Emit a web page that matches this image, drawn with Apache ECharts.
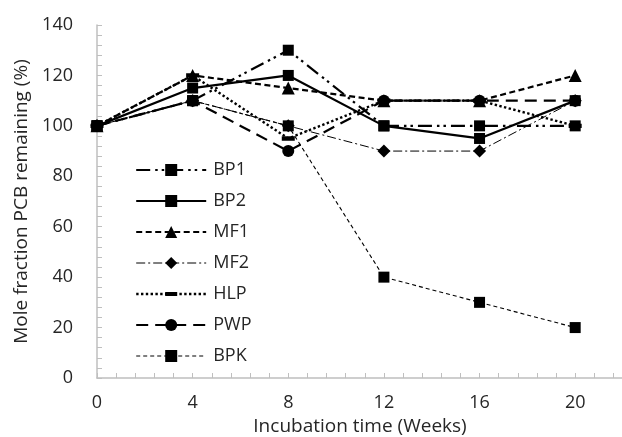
<!DOCTYPE html>
<html>
<head>
<meta charset="utf-8">
<script src="https://cdn.jsdelivr.net/npm/echarts@6/dist/echarts.min.js"></script>
<style>
html,body{margin:0;padding:0;background:#fff;}
#chart{width:622px;height:437px;}
</style>
</head>
<body>
<div id="chart"></div>
<script>
// ---- data ----
const weeks = [0, 4, 8, 12, 16, 20];
const seriesNames = ['BP1', 'BP2', 'MF1', 'MF2', 'HLP', 'PWP', 'BPK'];
const BP1 = [100, 110, 130, 100, 100, 100];
const BP2 = [100, 115, 120, 100, 95, 110];
const MF1 = [100, 120, 115, 110, 110, 120];
const MF2 = [100, 110, 100, 90, 90, 110];
const HLP = [100, 120, 95, 110, 110, 100];
const PWP = [100, 110, 90, 110, 110, 110];
const BPK = [100, 110, 100, 40, 30, 20];
const xTickLabels = [0, 4, 8, 12, 16, 20];
const yTickLabels = [0, 20, 40, 60, 80, 100, 120, 140];

const valuesByName = { BP1, BP2, MF1, MF2, HLP, PWP, BPK };

// ---- styles ----
const FONT = 'Open Sans';
const TXT = '#262626';
const AX = '#bfbfbf';
const styles = {
  BP1: { symbol: 'rect', size: 11, width: 2.2, type: [14, 5, 2.5, 4, 2.5, 5] },
  BP2: { symbol: 'rect', size: 11, width: 2.2, type: 'solid' },
  MF1: { symbol: 'triangle', size: 13, width: 2.2, type: [6, 3.5] },
  MF2: { symbol: 'diamond', size: 13, width: 1, type: [9, 3, 2, 3] },
  HLP: { symbol: 'path://M0,0L0.01,0M0,4L12,4L12,8L0,8ZM0,12L0.01,12', size: 13, width: 2.4, type: [2.4, 2.4] },
  PWP: { symbol: 'circle', size: 12, width: 2.2, type: [12, 7] },
  BPK: { symbol: 'rect', size: 11, width: 1.1, type: [4, 3] }
};

const chart = echarts.init(document.getElementById('chart'), null, { renderer: 'canvas' });

const series = seriesNames.map(name => ({
  name: name,
  type: 'line',
  data: weeks.map((w, i) => [w, valuesByName[name][i]]),
  symbol: styles[name].symbol,
  symbolSize: styles[name].size,
  showAllSymbol: true,
  lineStyle: { color: '#000', width: styles[name].width, type: styles[name].type },
  itemStyle: { color: '#000', borderWidth: 0 },
  emphasis: { disabled: true },
  animation: false
}));

const isMultiple = (v, m) => Math.abs(v / m - Math.round(v / m)) < 1e-6;

const option = {
  animation: false,
  backgroundColor: '#fff',
  grid: { left: 97, top: 25, right: -1, bottom: 59, containLabel: false, outerBoundsMode: 'none' },
  legend: {
    orient: 'vertical',
    left: 130,
    top: 156,
    itemWidth: 70,
    itemHeight: 15,
    itemGap: 13,
    selectedMode: false,
    textStyle: { fontFamily: FONT, fontSize: 18, color: TXT, padding: [0, 0, 0, 2] },
    data: seriesNames.map(name => ({
      name: name,
      lineStyle: { color: '#000', width: styles[name].width, type: styles[name].type },
      itemStyle: { color: '#000', borderWidth: 0 }
    }))
  },
  xAxis: {
    type: 'value',
    min: 0,
    max: 22,
    interval: 0.8,
    name: 'Incubation time (Weeks)',
    nameLocation: 'middle',
    nameGap: 38,
    nameTextStyle: { fontFamily: FONT, fontSize: 19, color: TXT },
    axisLine: { show: true, lineStyle: { color: AX, width: 1.5 } },
    axisTick: { show: true, inside: true, length: 5, lineStyle: { color: AX, width: 1 } },
    splitLine: { show: false },
    axisLabel: {
      fontFamily: FONT, fontSize: 18, color: TXT, margin: 16,
      showMaxLabel: true,
      formatter: v => {
        if (!isMultiple(v, 4)) return '';
        const r = Math.round(v);
        return xTickLabels.indexOf(r) >= 0 ? String(r) : '';
      }
    }
  },
  yAxis: {
    type: 'value',
    min: 0,
    max: 140,
    interval: 20,
    name: 'Mole fraction PCB remaining (%)',
    nameLocation: 'middle',
    nameGap: 63,
    nameTextStyle: { fontFamily: FONT, fontSize: 19, color: TXT },
    axisLine: { show: true, lineStyle: { color: AX, width: 1.5 } },
    axisTick: { show: true, inside: true, length: 5, lineStyle: { color: AX, width: 1 } },
    minorTick: { show: true, splitNumber: 5, length: 5, lineStyle: { color: AX, width: 1 } },
    splitLine: { show: false },
    minorSplitLine: { show: false },
    axisLabel: {
      fontFamily: FONT, fontSize: 18, color: TXT, margin: 24,
      formatter: v => (yTickLabels.indexOf(Math.round(v)) >= 0 ? String(Math.round(v)) : '')
    }
  },
  series: series
};

chart.setOption(option);
</script>
</body>
</html>
